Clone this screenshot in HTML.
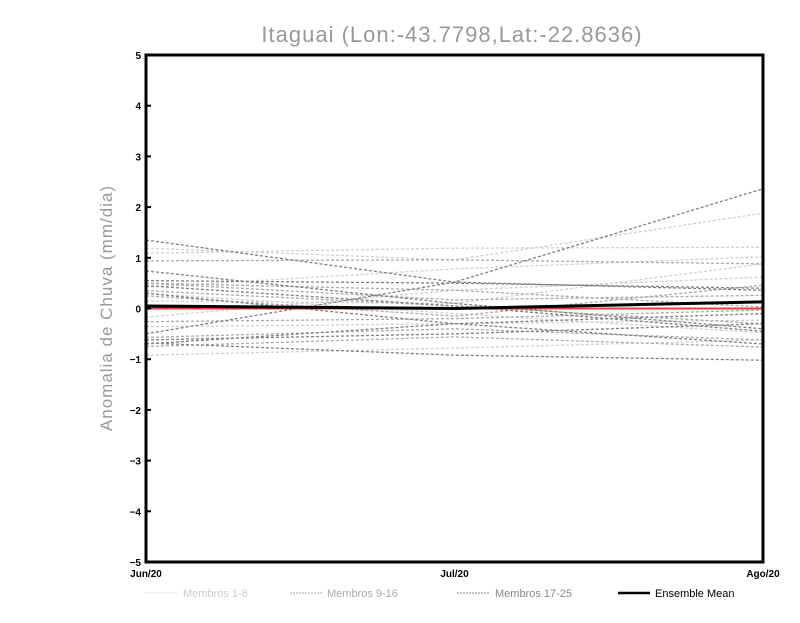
<!DOCTYPE html>
<html><head><meta charset="utf-8"><style>
body{margin:0;background:#fff;width:800px;height:618px;overflow:hidden;font-family:"Liberation Sans",sans-serif}
</style></head><body>
<svg id="chart" width="800" height="618" xmlns="http://www.w3.org/2000/svg">
<text x="452" y="42" text-anchor="middle" font-size="22" fill="#999" font-family="Liberation Sans, sans-serif" letter-spacing="1">Itaguai (Lon:-43.7798,Lat:-22.8636)</text>
<text transform="translate(112,308) rotate(-90)" text-anchor="middle" font-size="17" fill="#999" letter-spacing="1">Anomalia de Chuva (mm/dia)</text>
<g id="series"></g>
<g id="axes"></g>
<g id="legend">
<line x1="145" y1="593" x2="178" y2="593" stroke="#ddd" stroke-dasharray="2,1"/>
<text x="183" y="597" font-size="11" fill="#ccc">Membros 1-8</text>
<line x1="290" y1="593" x2="322" y2="593" stroke="#aaa" stroke-dasharray="2,1"/>
<text x="327" y="597" font-size="11" fill="#aaa">Membros 9-16</text>
<line x1="457" y1="593" x2="490" y2="593" stroke="#888" stroke-dasharray="2,1"/>
<text x="495" y="597" font-size="11" fill="#888">Membros 17-25</text>
<line x1="618" y1="593" x2="650" y2="593" stroke="#000" stroke-width="2.5"/>
<text x="655" y="597" font-size="11" fill="#000">Ensemble Mean</text>
</g>
</svg>
<script>
const categories = ["Jun/20","Jul/20","Ago/20"];
const yTicks = [-5,-4,-3,-2,-1,0,1,2,3,4,5];
const members1to8 = [[1.19,0.96,1.88],[1.09,1.19,1.21],[0.42,0.78,1.02],[-0.17,0.36,0.62],[-0.92,-0.78,-0.62],[0.15,0.1,0.88],[-0.36,-0.3,-0.23],[0.3,-0.1,-0.48]];
const members9to16 = [[0.94,0.96,0.88],[0.5,0.17,0.26],[-0.26,-0.2,-0.03],[0.35,0.05,-0.3],[-0.57,-0.4,-0.62],[0.25,-0.15,0.46],[-0.75,-0.56,-0.76],[0.5,0.36,0.03]];
const members17to25 = [[1.35,0.52,0.36],[-0.5,0.52,2.36],[0.74,0.1,-0.4],[0.55,0.5,0.4],[-0.62,-0.5,-0.3],[-0.68,-0.92,-1.02],[0.3,-0.3,-0.7],[-0.7,-0.3,-0.1],[0.45,0.05,-0.45]];
const ensembleMean = [0.05,0.0,0.13];
const zeroLine = [0,0,0];
const L=146,R=763,T=55,B=562;
const xS=i=>L+i*(R-L)/(categories.length-1);
const yS=v=>T+(5-v)*(B-T)/10;
const NS="http://www.w3.org/2000/svg";
const sg=document.getElementById('series'), ax=document.getElementById('axes');
function poly(vals,color,w,dash,name){
 const p=document.createElementNS(NS,'polyline');
 p.setAttribute('points',vals.map((v,i)=>xS(i)+','+yS(v)).join(' '));
 p.setAttribute('fill','none');p.setAttribute('stroke',color);p.setAttribute('stroke-width',w);
 if(dash)p.setAttribute('stroke-dasharray',dash);
 
 
 sg.appendChild(p);
}
members1to8.forEach((s,i)=>poly(s,'#d0d0d0',1.3,'3,2','member-line-'+(i+1)));
members9to16.forEach((s,i)=>poly(s,'#aaaaaa',1.3,'3,2','member-line-'+(i+9)));
members17to25.forEach((s,i)=>poly(s,'#808080',1.3,'3,2','member-line-'+(i+17)));
poly(zeroLine,'#e84040',2,null,'zero-line');
poly(ensembleMean,'#000',3,null,'ensemble-mean-line');
const fr=document.createElementNS(NS,'rect');
fr.setAttribute('x',L);fr.setAttribute('y',T);fr.setAttribute('width',R-L);fr.setAttribute('height',B-T);
fr.setAttribute('fill','none');fr.setAttribute('stroke','#000');fr.setAttribute('stroke-width','3');


ax.appendChild(fr);
yTicks.forEach(v=>{
 const t=document.createElementNS(NS,'text');
 t.setAttribute('x',L-5);t.setAttribute('y',yS(v)+4);t.setAttribute('text-anchor','end');
 t.setAttribute('font-size','10');t.setAttribute('font-weight','bold');
 t.textContent=v<0?'\u2212'+(-v):String(v);
 
 
 ax.appendChild(t);
 const l=document.createElementNS(NS,'line');
 l.setAttribute('x1',L);l.setAttribute('x2',L+5);l.setAttribute('y1',yS(v));l.setAttribute('y2',yS(v));l.setAttribute('stroke','#000');l.setAttribute('stroke-width','2');
 
 
 ax.appendChild(l);
});
categories.forEach((c,i)=>{
 const t=document.createElementNS(NS,'text');
 t.setAttribute('x',xS(i));t.setAttribute('y',B+15);t.setAttribute('text-anchor','middle');
 t.setAttribute('font-size','10');t.setAttribute('font-weight','bold');
 t.textContent=c;
 
 
 ax.appendChild(t);
});
</script>
</body></html>
